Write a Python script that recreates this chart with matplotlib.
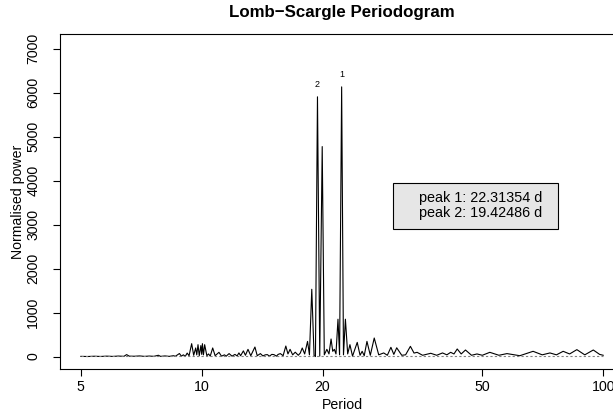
import matplotlib
matplotlib.use("Agg")
import matplotlib.pyplot as plt
from matplotlib.patches import Rectangle
from matplotlib.ticker import FixedLocator, FixedFormatter, NullLocator

# ---- data ----
period = [5.0, 5.2, 5.4, 5.6, 5.8, 6.0, 6.2, 6.4, 6.5, 6.6, 6.8, 7.0, 7.2, 7.4, 7.6,
          7.8, 7.9, 8.1, 8.3, 8.5, 8.6, 8.8, 8.9, 9.0, 9.1, 9.2, 9.3, 9.44, 9.55, 9.66,
          9.72, 9.79, 9.86, 9.95, 10.0, 10.04, 10.1, 10.17, 10.3, 10.4, 10.5, 10.65,
          10.8, 11.04, 11.2, 11.4, 11.5, 11.7, 11.9, 12.1, 12.25, 12.38, 12.5, 12.7,
          12.85, 13.04, 13.25, 13.57, 13.75, 14.0, 14.2, 14.4, 14.57, 14.75, 14.95,
          15.13, 15.35, 15.5, 15.7, 15.95, 16.2, 16.4, 16.6, 16.85, 17.1, 17.4, 17.6,
          17.8, 18.05, 18.35, 18.55, 18.8, 19.05, 19.2, 19.42486, 19.68, 19.96, 20.2,
          20.5, 20.75, 21.0, 21.2, 21.4, 21.6, 21.85, 22.05, 22.31354, 22.55, 22.8,
          23.1, 23.4, 23.75, 24.4, 24.8, 25.1, 25.4, 25.8, 26.3, 26.9, 27.6, 28.4,
          29.0, 29.6, 30.1, 30.6, 31.5, 32.2, 33.1, 33.8, 34.4, 35.5, 37.2, 38.5,
          39.8, 40.8, 41.7, 42.5, 43.3, 44.3, 45.4, 47.0, 48.5, 50.0, 52.2, 55.0,
          57.6, 62.0, 66.9, 70.5, 73.7, 76.5, 79.5, 82.5, 86.0, 90.0, 94.5, 98.0, 100.0]
power = [5, 2, 8, 3, 10, 4, 12, 6, 45, 10, 8, 15, 5, 12, 6,
         30, 5, 15, 5, 20, 8, 70, 10, 40, 5, 80, 20, 294, 30, 196,
         40, 271, 20, 250, 50, 294, 40, 271, 20, 60, 10, 196,
         20, 97, 10, 40, 8, 68, 10, 50, 15, 84, 20, 130,
         30, 165, 20, 218, 20, 68, 15, 40, 45, 10, 50,
         45, 10, 50, 68, 20, 240, 60, 165, 40, 100, 30, 80,
         196, 60, 345, 40, 1530, 20, 0, 5905, 10, 4774, 40,
         165, 60, 400, 120, 165, 60, 850, 40, 6131, 40, 850,
         60, 271, 10, 323, 30, 120, 20, 346, 30, 422, 40, 83,
         30, 211, 50, 200, 30, 40, 233, 80, 97, 30, 75, 30,
         83, 40, 97, 60, 173, 60, 150, 30, 60, 30, 97, 30,
         68, 20, 120, 40, 83, 40, 120, 60, 158, 40, 150, 50, 30]
threshold = 10
peak_periods = [22.31354, 19.42486]
peak_names = ["1", "2"]
x_ticks = [5, 10, 20, 50, 100]
y_ticks = [0, 1000, 2000, 3000, 4000, 5000, 6000, 7000]

plt.rcParams['font.family'] = ['Liberation Sans', 'DejaVu Sans']

W, H = 613, 416
fig = plt.figure(figsize=(W / 100, H / 100), dpi=100)
L, R, B, T = 60, 624, 369, 34
ax = fig.add_axes([L / W, (H - B) / H, (R - L) / W, (B - T) / H])

ax.plot(period, power, color='black', lw=0.8)
ax.plot([period[0], period[-1]], [threshold, threshold], color='#808080',
        lw=0.8, ls=(0, (2, 2)))

ax.set_xscale('log')
ax.set_xlim(4.436, 112.7)
ax.set_ylim(-282, 7333)
ax.xaxis.set_major_locator(FixedLocator(x_ticks))
ax.xaxis.set_major_formatter(FixedFormatter([str(v) for v in x_ticks]))
ax.xaxis.set_minor_locator(NullLocator())
ax.set_yticks(y_ticks)
ax.set_yticklabels([str(v) for v in y_ticks], rotation=90, va='center')

FS = 10.2
for s in ax.spines.values():
    s.set_linewidth(0.8)
ax.tick_params(axis='both', direction='out', length=5.2, width=0.8,
               labelsize=FS, colors='black')
ax.tick_params(axis='x', pad=3.0)
ax.tick_params(axis='y', pad=9)

ax.set_xlabel('Period', fontsize=FS, labelpad=2.5)
ax.set_ylabel('Normalised power', fontsize=FS, labelpad=1)
ax.set_title('Lomb\u2212Scargle Periodogram', fontsize=12.2, fontweight='bold', pad=12)

for pp, nm in zip(peak_periods, peak_names):
    i = period.index(pp)
    ax.annotate(nm, (pp, power[i]), xytext=(0, 8), textcoords='offset pixels',
                ha='center', va='bottom', fontsize=6.5)

# legend box
bx0, by0, bx1, by1 = 393, 183, 558, 229
fig.add_artist(Rectangle((bx0 / W, (H - by1) / H), (bx1 - bx0) / W, (by1 - by0) / H,
                         transform=fig.transFigure, facecolor='#e6e6e6',
                         edgecolor='black', lw=0.8))
lines = ["peak %s: %.5f d" % (nm, pp) for nm, pp in zip(peak_names, peak_periods)]
for k, txt in enumerate(lines):
    fig.text(419 / W, (H - (198 + 15 * k)) / H, txt, fontsize=10.4,
             ha='left', va='center')

fig.savefig('out.png', dpi=100)
